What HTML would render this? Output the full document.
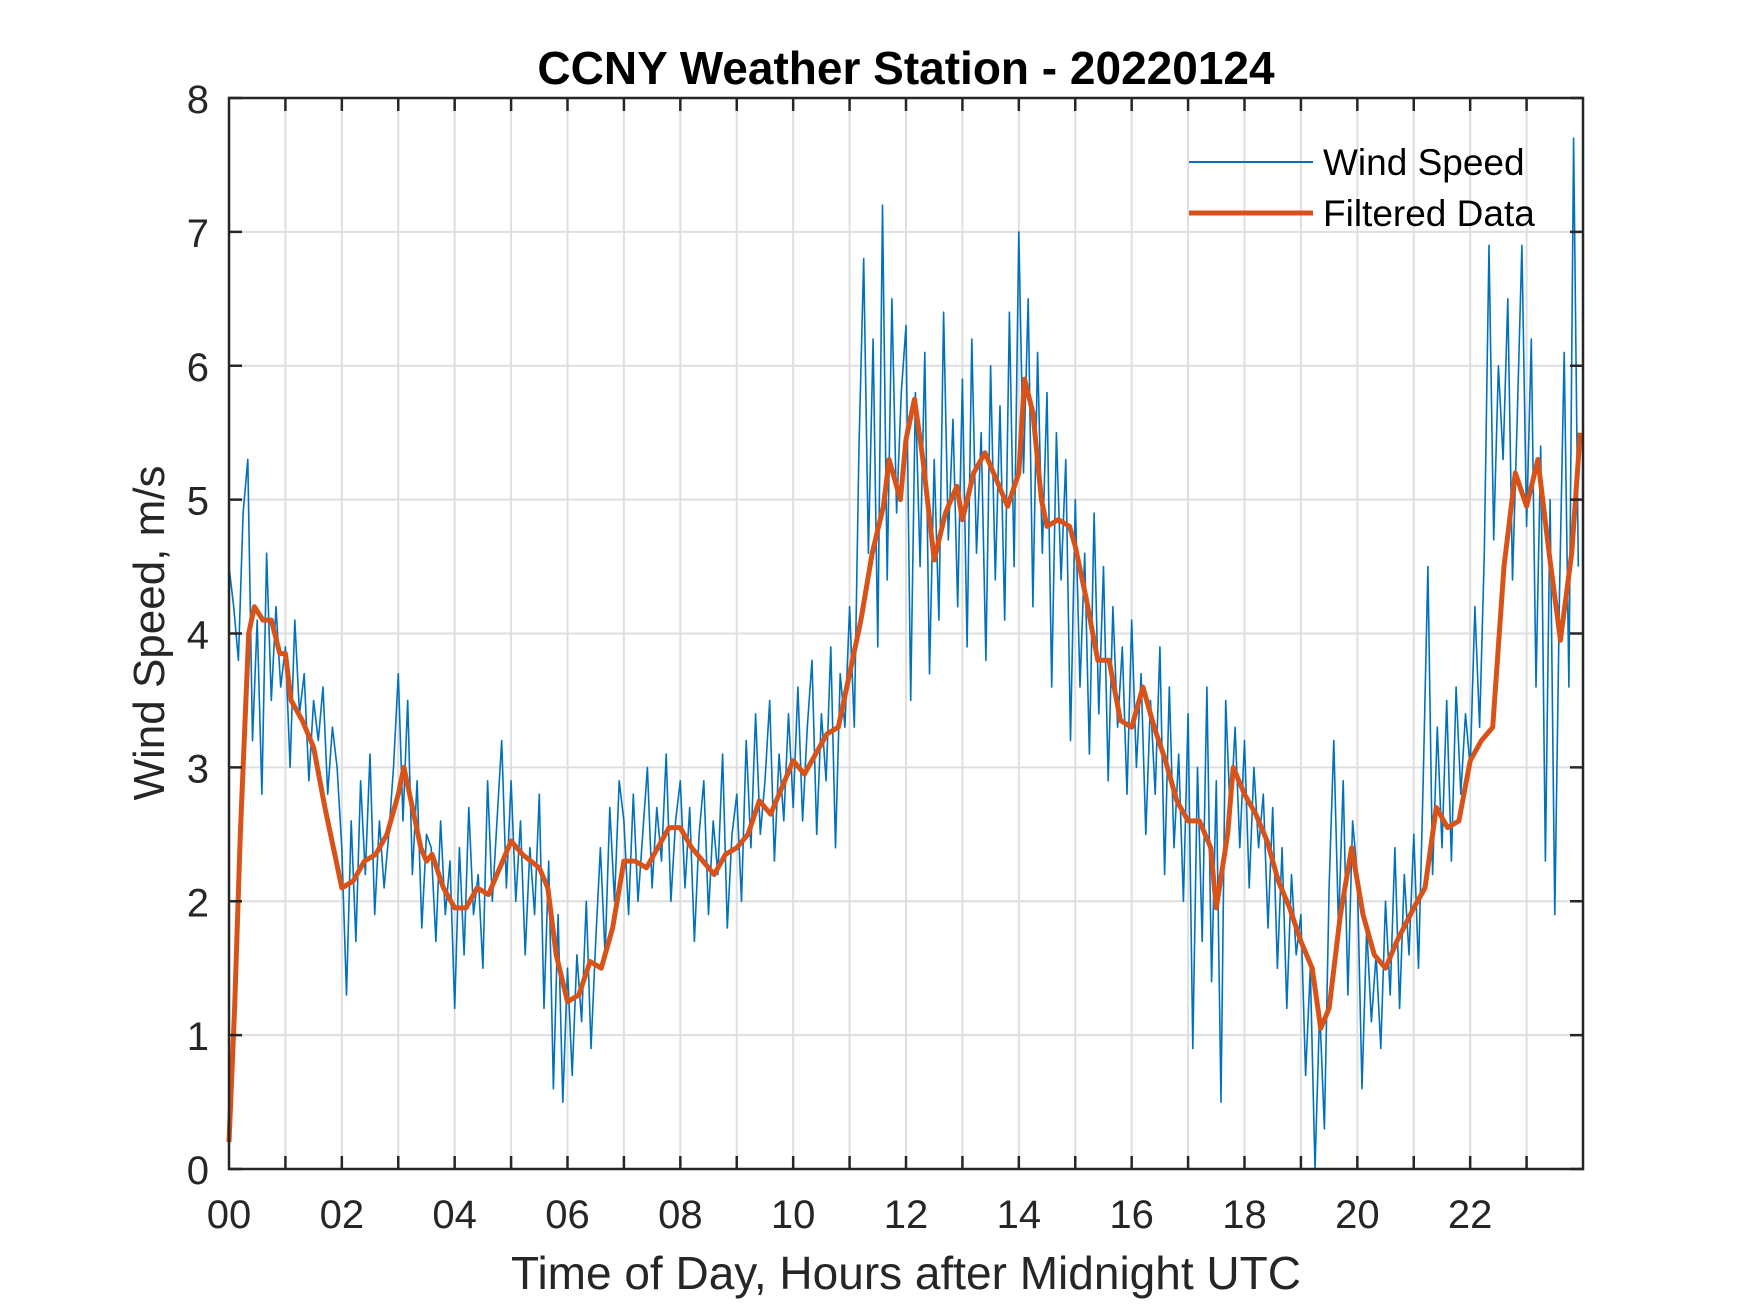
<!DOCTYPE html>
<html><head><meta charset="utf-8"><style>
html,body{margin:0;padding:0;background:#fff;}
svg{display:block;font-family:"Liberation Sans",Arial,sans-serif;}
</style></head><body>
<svg id="chart" width="1750" height="1313" viewBox="0 0 1750 1313" xmlns="http://www.w3.org/2000/svg">
<rect width="1750" height="1313" fill="#fff"/>
<g id="grid"></g>
<g id="series"></g>
<g id="axes"></g>
<text x="906" y="84" text-anchor="middle" font-size="46" font-weight="bold" fill="#000">CCNY Weather Station - 20220124</text>
<text x="906" y="1289" text-anchor="middle" font-size="46" fill="#262626">Time of Day, Hours after Midnight UTC</text>
<text x="0" y="0" transform="translate(164,633) rotate(-90)" text-anchor="middle" font-size="44" fill="#262626">Wind Speed, m/s</text>
<g>
<line x1="1189" y1="162" x2="1313" y2="162" stroke="#0072BD" stroke-width="2"/>
<text x="1323" y="175" font-size="37" fill="#000">Wind Speed</text>
<line x1="1189" y1="213" x2="1313" y2="213" stroke="#D95319" stroke-width="5"/>
<text x="1323" y="226" font-size="37" fill="#000">Filtered Data</text>
</g>
</svg>
<script>
const xTicks = [0,2,4,6,8,10,12,14,16,18,20,22];
const xTickLabels = ["00","02","04","06","08","10","12","14","16","18","20","22"];
const yTicks = [0,1,2,3,4,5,6,7,8];
const windSpeed = [
4.5,4.2,3.8,4.9,5.3,3.2,4.1,2.8,4.6,3.5,4.2,3.6,
3.9,3.0,4.1,3.4,3.7,2.9,3.5,3.2,3.6,2.8,3.3,3.0,
2.4,1.3,2.6,1.7,2.9,2.2,3.1,1.9,2.6,2.1,2.5,3.0,
3.7,2.6,3.5,2.2,2.9,1.8,2.5,2.4,1.7,2.6,1.9,2.3,
1.2,2.4,1.6,2.7,1.9,2.2,1.5,2.9,2.0,2.6,3.2,2.1,
2.9,2.0,2.6,1.6,2.4,1.9,2.8,1.2,2.3,0.6,1.9,0.5,
1.5,0.7,1.6,1.1,2.0,0.9,1.7,2.4,1.6,2.7,2.0,2.9,
2.6,1.9,2.8,2.0,2.5,3.0,2.1,2.7,2.3,3.1,2.0,2.6,
2.9,2.1,2.7,1.7,2.5,2.9,1.9,2.6,2.2,3.1,1.8,2.5,
2.8,2.0,3.2,2.4,3.4,2.5,2.9,3.5,2.3,3.1,2.6,3.4,
2.7,3.6,2.6,3.3,3.8,2.5,3.4,2.9,3.9,2.4,3.7,3.3,
4.2,3.3,5.4,6.8,4.6,6.2,3.9,7.2,4.4,6.5,4.9,5.8,
6.3,3.5,5.8,4.5,6.1,3.7,5.3,4.1,6.4,4.7,5.6,4.2,
5.9,3.9,6.2,4.6,5.5,3.8,6.0,4.4,5.7,4.1,6.4,4.5,
7.0,5.2,6.5,4.2,6.1,4.6,5.8,3.6,5.5,4.4,5.3,3.2,
5.0,3.6,4.6,3.1,4.9,3.4,4.5,2.9,4.2,3.3,3.9,2.8,
4.1,3.0,3.7,2.5,3.5,2.8,3.9,2.2,3.6,2.4,3.1,2.0,
3.4,0.9,3.0,1.7,3.6,1.4,2.9,0.5,3.5,2.6,3.3,2.4,
3.2,2.1,3.0,2.4,2.8,1.8,2.7,1.5,2.4,1.2,2.2,1.6,
1.9,0.7,1.5,0.0,1.2,0.3,2.1,3.2,1.8,2.9,1.3,2.6,
2.2,0.6,1.8,1.1,1.6,0.9,2.0,1.3,2.4,1.2,2.2,1.6,
2.5,1.5,2.9,4.5,2.2,3.3,2.4,3.5,2.3,3.6,2.8,3.4,
3.0,4.2,3.3,4.6,6.9,4.7,6.0,5.3,6.5,4.4,5.6,6.9,
4.8,6.2,3.6,5.4,2.3,5.0,1.9,4.3,6.1,3.6,7.7,4.5
];
const filteredHours = [0,0.1,0.2,0.35,0.45,0.6,0.75,0.9,1.0,1.1,1.3,1.5,1.7,1.9,2.0,2.2,2.4,2.6,2.8,3.0,3.1,3.25,3.4,3.5,3.6,3.8,4.0,4.2,4.4,4.6,4.8,5.0,5.2,5.5,5.65,5.8,6.0,6.2,6.4,6.6,6.8,7.0,7.2,7.4,7.6,7.8,8.0,8.2,8.4,8.6,8.8,9.0,9.2,9.4,9.6,9.8,10.0,10.2,10.4,10.6,10.8,11.0,11.2,11.4,11.6,11.7,11.9,12.0,12.15,12.3,12.5,12.7,12.9,13.0,13.2,13.4,13.6,13.8,14.0,14.1,14.25,14.4,14.5,14.7,14.9,15.0,15.2,15.4,15.6,15.8,16.0,16.2,16.4,16.6,16.8,17.0,17.2,17.4,17.5,17.7,17.8,18.0,18.2,18.4,18.6,18.8,19.0,19.2,19.35,19.5,19.7,19.9,20.1,20.3,20.5,20.7,21.0,21.2,21.4,21.6,21.8,22.0,22.2,22.4,22.6,22.8,23.0,23.2,23.4,23.6,23.8,23.95];
const filteredValues = [0.2,1.2,2.5,4.0,4.2,4.1,4.1,3.85,3.85,3.5,3.35,3.15,2.7,2.3,2.1,2.15,2.3,2.35,2.5,2.8,3.0,2.7,2.4,2.3,2.35,2.1,1.95,1.95,2.1,2.05,2.25,2.45,2.35,2.25,2.1,1.6,1.25,1.3,1.55,1.5,1.8,2.3,2.3,2.25,2.4,2.55,2.55,2.4,2.3,2.2,2.35,2.4,2.5,2.75,2.65,2.85,3.05,2.95,3.1,3.25,3.3,3.7,4.1,4.6,4.95,5.3,5.0,5.45,5.75,5.3,4.55,4.9,5.1,4.85,5.2,5.35,5.15,4.95,5.2,5.9,5.65,5.0,4.8,4.85,4.8,4.65,4.25,3.8,3.8,3.35,3.3,3.6,3.3,3.05,2.75,2.6,2.6,2.4,1.95,2.5,3.0,2.8,2.65,2.45,2.15,1.95,1.7,1.5,1.05,1.2,1.9,2.4,1.9,1.6,1.5,1.7,1.95,2.1,2.7,2.55,2.6,3.05,3.2,3.3,4.5,5.2,4.95,5.3,4.6,3.95,4.6,5.5];

const L=229,R=1583,T=98,B=1169;
const sx=h=>L+(h/24)*(R-L);
const sy=v=>B-(v/8)*(B-T);
const NS="http://www.w3.org/2000/svg";
function mk(tag,attrs,parent){const e=document.createElementNS(NS,tag);for(const k in attrs)e.setAttribute(k,attrs[k]);parent.appendChild(e);return e;}
const grid=document.getElementById('grid'),axes=document.getElementById('axes'),series=document.getElementById('series');
for(let h=1;h<24;h++){
  const l=mk('line',{x1:sx(h),x2:sx(h),y1:T,y2:B,stroke:'#dfdfdf','stroke-width':2},grid);
  
  
}
yTicks.forEach(v=>{if(v>0&&v<8){
  const l=mk('line',{x1:L,x2:R,y1:sy(v),y2:sy(v),stroke:'#dfdfdf','stroke-width':2},grid);
  
  
}});
let d='';
windSpeed.forEach((v,i)=>{d+=(i?'L':'M')+sx(i/12).toFixed(1)+' '+sy(v).toFixed(1);});
const w=mk('path',{d:d,fill:'none',stroke:'#0072BD','stroke-width':1.6,'stroke-linejoin':'round'},series);


let d2='';
filteredHours.forEach((h,i)=>{d2+=(i?'L':'M')+sx(h).toFixed(1)+' '+sy(filteredValues[i]).toFixed(1);});
const f=mk('path',{d:d2,fill:'none',stroke:'#D95319','stroke-width':5,'stroke-linejoin':'round'},series);


const box=mk('rect',{x:L,y:T,width:R-L,height:B-T,fill:'none',stroke:'#262626','stroke-width':2.5},axes);


for(let h=1;h<24;h++){
  mk('line',{x1:sx(h),x2:sx(h),y1:B,y2:B-13,stroke:'#262626','stroke-width':2.5},axes);
  mk('line',{x1:sx(h),x2:sx(h),y1:T,y2:T+13,stroke:'#262626','stroke-width':2.5},axes);
}
yTicks.forEach(v=>{
  mk('line',{x1:L,x2:L+13,y1:sy(v),y2:sy(v),stroke:'#262626','stroke-width':2.5},axes);
  mk('line',{x1:R,x2:R-13,y1:sy(v),y2:sy(v),stroke:'#262626','stroke-width':2.5},axes);
  const t=mk('text',{x:L-20,y:sy(v)+15,'text-anchor':'end','font-size':40,fill:'#262626'},axes);
  t.textContent=String(v);
  
  
});
xTicks.forEach((h,i)=>{
  const t=mk('text',{x:sx(h),y:1228,'text-anchor':'middle','font-size':40,fill:'#262626'},axes);
  t.textContent=xTickLabels[i];
  
  
});
</script>
</body></html>
